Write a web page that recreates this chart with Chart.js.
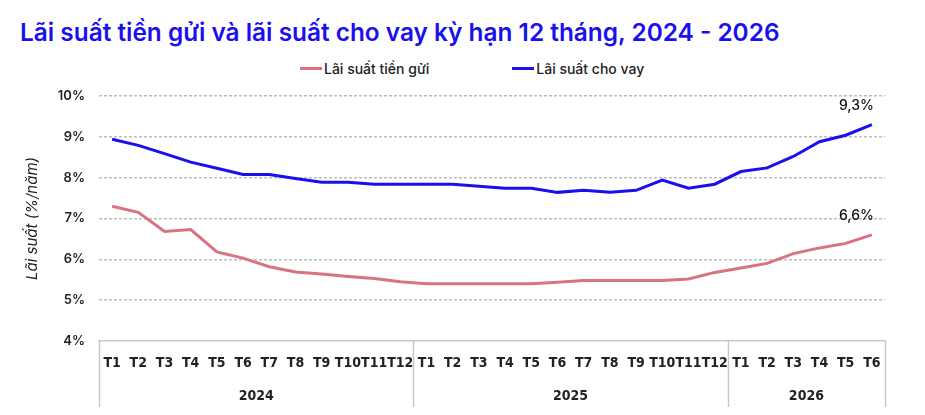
<!DOCTYPE html>
<html lang="vi">
<head>
<meta charset="UTF-8" />
<title>Lãi suất tiền gửi và lãi suất cho vay kỳ hạn 12 tháng</title>
<script src="https://cdn.jsdelivr.net/npm/chart.js"></script>
<style>
  html, body { margin: 0; background: #fff; }
  #wrap { position: relative; width: 925px; height: 415px; }
  #title { position: absolute; left: 20px; top: 17px; margin: 0; font: 600 24.4px Inter, sans-serif; color: #1a10ee; white-space: nowrap; }
  #legend { position: absolute; top: 60px; left: 300px; display: flex; font: 500 14px Inter, sans-serif; color: #222; }
  .item { display: flex; align-items: center; margin-right: 83px; }
  .item i { display: inline-block; width: 22px; height: 3px; margin-right: 2px; }
  canvas { position: absolute; left: 0; top: 0; }
</style>
</head>
<body>
<div id="wrap">
  <h1 id="title">Lãi suất tiền gửi và lãi suất cho vay kỳ hạn 12 tháng, 2024 - 2026</h1>
  <div id="legend"></div>
  <canvas id="rates" width="925" height="415"></canvas>
</div>

<script>
const months = ['T1','T2','T3','T4','T5','T6','T7','T8','T9','T10','T11','T12',
                'T1','T2','T3','T4','T5','T6','T7','T8','T9','T10','T11','T12',
                'T1','T2','T3','T4','T5','T6'];
const years = ['2024', '2025', '2026'];
const yearSpans = [12, 12, 6];

const deposit = [7.3, 7.15, 6.68, 6.73, 6.18, 6.03, 5.82, 5.69, 5.64, 5.58, 5.53, 5.45,
                 5.4, 5.4, 5.4, 5.4, 5.4, 5.44, 5.48, 5.48, 5.48, 5.48, 5.52, 5.68,
                 5.79, 5.9, 6.14, 6.28, 6.39, 6.6];
const lending = [8.94, 8.79, 8.59, 8.38, 8.23, 8.08, 8.08, 7.98, 7.89, 7.89, 7.84, 7.84,
                 7.84, 7.84, 7.79, 7.74, 7.74, 7.64, 7.69, 7.64, 7.69, 7.94, 7.74, 7.84,
                 8.15, 8.24, 8.52, 8.88, 9.04, 9.3];

const seriesNames = ['Lãi suất tiền gửi', 'Lãi suất cho vay'];
const seriesColors = ['#d8737f', '#1a10ee'];

// legend in html
const legend = document.getElementById('legend');
seriesNames.forEach((name, i) => {
  const el = document.createElement('span');
  el.className = 'item';
  el.innerHTML = `<i style="background:${seriesColors[i]}"></i>${name}`;
  legend.appendChild(el);
});

// year boundaries and centres on the linear year axis
const bounds = [-0.5];
yearSpans.forEach(n => bounds.push(bounds[bounds.length - 1] + n));
const yearCenters = yearSpans.map((n, i) => (bounds[i] + bounds[i + 1]) / 2);

const yearLines = {
  id: 'yearLines',
  afterDraw(chart) {
    const { ctx, chartArea } = chart;
    const x2 = chart.scales.x2;
    ctx.save();
    ctx.strokeStyle = '#c8c8c8';
    ctx.lineWidth = 1.5;
    bounds.forEach(b => {
      const px = Math.round(x2.getPixelForValue(b)) + 0.5;
      ctx.beginPath();
      ctx.moveTo(px, chartArea.bottom);
      ctx.lineTo(px, x2.bottom);
      ctx.stroke();
    });
    ctx.restore();
  }
};

const endLabels = {
  id: 'endLabels',
  afterDatasetsDraw(chart) {
    const { ctx } = chart;
    ctx.save();
    ctx.font = '500 14px Inter, sans-serif';
    ctx.fillStyle = '#111';
    ctx.textAlign = 'right';
    ctx.textBaseline = 'middle';
    chart.data.datasets.forEach((ds, i) => {
      const pts = chart.getDatasetMeta(i).data;
      const last = pts[pts.length - 1];
      const v = ds.data[ds.data.length - 1];
      ctx.fillText(String(v).replace('.', ',') + '%', last.x + 2, last.y - 19);
    });
    ctx.restore();
  }
};

new Chart(document.getElementById('rates'), {
  type: 'line',
  data: {
    labels: months,
    datasets: [
      { label: seriesNames[0], data: deposit, borderColor: seriesColors[0], backgroundColor: seriesColors[0],
        borderWidth: 3, pointRadius: 0, tension: 0 },
      { label: seriesNames[1], data: lending, borderColor: seriesColors[1], backgroundColor: seriesColors[1],
        borderWidth: 3, pointRadius: 0, tension: 0 }
    ]
  },
  options: {
    responsive: false,
    animation: false,
    layout: { padding: { top: 96, right: 40, bottom: 8, left: 20 } },
    plugins: { legend: { display: false }, tooltip: { enabled: false } },
    scales: {
      x: {
        offset: true,
        afterFit: s => { s.height = 32; },
        grid: { display: false, drawTicks: false },
        border: { display: true, color: '#c8c8c8', width: 1.5 },
        ticks: { autoSkip: false, maxRotation: 0, padding: 14, color: '#222',
                 font: { family: 'DejaVu Sans Condensed', size: 14, weight: '600' } }
      },
      x2: {
        type: 'linear',
        position: 'bottom',
        min: -0.5,
        max: months.length - 0.5,
        afterFit: s => { s.height = 34; },
        grid: { display: false, drawTicks: false },
        border: { display: false },
        afterBuildTicks: s => { s.ticks = yearCenters.map(v => ({ value: v })); },
        ticks: { autoSkip: false, maxRotation: 0, padding: 15, color: '#222',
                 font: { family: 'DejaVu Sans Condensed', size: 14, weight: '600' },
                 callback: v => years[yearCenters.indexOf(v)] }
      },
      y: {
        min: 4,
        max: 10,
        afterFit: s => { s.width = 79; },
        grid: { color: c => c.tick.value === 4 ? 'rgba(0,0,0,0)' : '#bdbdbd', lineWidth: 1.5, drawTicks: false },
        border: { display: false, dash: [3, 2] },
        ticks: { stepSize: 1, padding: 14, color: '#222',
                 font: { family: 'Inter', size: 13, weight: '600' },
                 callback: v => v + '%' },
        title: { display: true, text: 'Lãi suất (%/năm)', color: '#222', padding: { top: 3, bottom: 0 },
                 font: { family: 'Inter', size: 15, style: 'italic' } }
      }
    }
  },
  plugins: [yearLines, endLabels]
});
</script>
</body>
</html>
